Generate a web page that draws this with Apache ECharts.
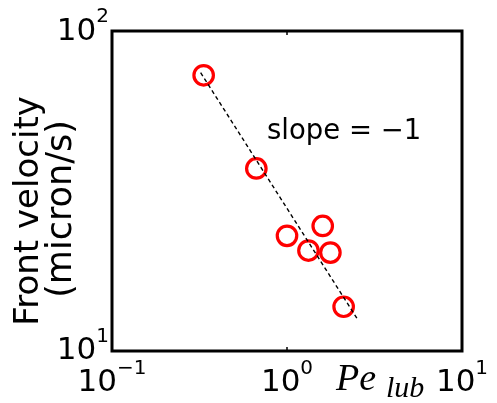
<!DOCTYPE html>
<html><head><meta charset="utf-8">
<script src="https://cdn.jsdelivr.net/npm/echarts@6/dist/echarts.min.js"></script>
<style>html,body{margin:0;padding:0;background:#fff}#c{width:497px;height:403px}</style>
</head><body><div id="c"></div>
<script>
const peLub = [0.334, 0.668, 1.0, 1.326, 1.60, 1.77, 2.107];
const velocity = [72.7, 37.2, 22.9, 20.6, 24.6, 20.3, 13.75];
const fitX = [0.321, 2.51];
const fitY = [74.1, 12.65];
const xTickExp = {'0.1': '−1', '1': '0', '10': '1'};
const yTickExp = {'10': '1', '100': '2'};
const yName1 = 'Front velocity';
const yName2 = '(micron/s)';
const slopeText = 'slope = −1';
const xNameMain = 'Pe';
const xNameSub = 'lub';

const F = 'DejaVu Sans';
const chart = echarts.init(document.getElementById('c'), null, {renderer: 'canvas'});
const pts = peLub.map((x, i) => [x, velocity[i]]);
const fit = fitX.map((x, i) => [x, fitY[i]]);
const key = v => String(Math.round(v * 1000) / 1000);
const rich = {
  b: {fontFamily: F, fontSize: 31, lineHeight: 48, color: '#000'},
  s: {fontFamily: F, fontSize: 20, color: '#000', verticalAlign: 'top'},
  bt: {fontFamily: F, fontSize: 31, lineHeight: 48, color: '#000', verticalAlign: 'top', padding: [9, 0, 0, 0]}
};
chart.setOption({
  animation: false,
  backgroundColor: '#fff',
  grid: {left: 112, right: 35, top: 31, bottom: 52, show: true, borderColor: '#000', borderWidth: 3, backgroundColor: '#fff'},
  xAxis: [{
    type: 'log', logBase: 10, min: 0.1, max: 10, position: 'bottom',
    axisLine: {show: false}, splitLine: {show: false}, minorTick: {show: false},
    axisTick: {inside: true, length: 4, lineStyle: {color: '#000', width: 1.5}},
    axisLabel: {margin: 8, formatter: v => '{b|10}{s|' + (xTickExp[key(v)] || '') + '}', rich: rich}
  }, {
    type: 'log', logBase: 10, min: 0.1, max: 10, position: 'top',
    axisLine: {show: false}, splitLine: {show: false},
    axisTick: {inside: true, length: 4, lineStyle: {color: '#000', width: 1.5}},
    axisLabel: {show: false}
  }],
  yAxis: [{
    type: 'log', logBase: 10, min: 10, max: 100,
    axisLine: {show: false}, splitLine: {show: false}, axisTick: {show: false},
    axisLabel: {margin: 3, formatter: v => {
      const e = yTickExp[key(v)] || '';
      return key(v) === '100' ? '{bt|10}{s|' + e + '}' : '{b|10}{s|' + e + '}';
    }, rich: rich}
  }],
  graphic: [
    {type: 'text', x: 29, y: 211, rotation: Math.PI / 2, style: {text: yName1, font: '34px "DejaVu Sans"', fill: '#000', align: 'center', verticalAlign: 'middle'}},
    {type: 'text', x: 62, y: 209, rotation: Math.PI / 2, style: {text: yName2, font: '35px "DejaVu Sans"', fill: '#000', align: 'center', verticalAlign: 'middle'}},
    {type: 'text', x: 267, y: 132, style: {text: slopeText, font: '27.5px "DejaVu Sans"', fill: '#000', align: 'left', verticalAlign: 'middle'}},
    {type: 'text', x: 336, y: 380, style: {text: xNameMain, font: 'italic 38px "Liberation Serif"', fill: '#000', align: 'left', verticalAlign: 'middle'}},
    {type: 'text', x: 386, y: 389, style: {text: xNameSub, font: 'italic 30px "Liberation Serif"', fill: '#000', align: 'left', verticalAlign: 'middle'}}
  ],
  series: [{
    type: 'line', data: fit, symbol: 'none', silent: true,
    lineStyle: {color: '#000', width: 1.4, type: [4, 3]}
  }, {
    type: 'scatter', data: pts, symbol: 'circle', symbolSize: 19.5,
    itemStyle: {color: 'rgba(0,0,0,0)', borderColor: '#ff0000', borderWidth: 3.2, opacity: 1}
  }]
});
</script></body></html>
